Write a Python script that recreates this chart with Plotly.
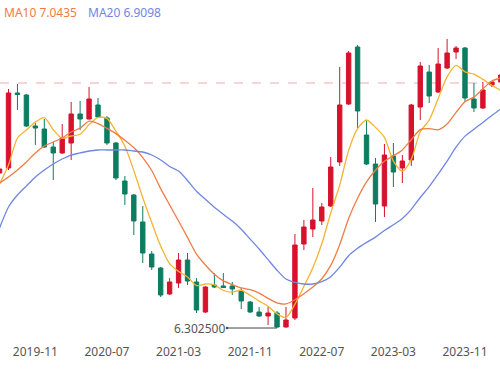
import plotly.graph_objects as go

months = ["2019-07","2019-08","2019-09","2019-10","2019-11","2019-12",
          "2020-01","2020-02","2020-03","2020-04","2020-05","2020-06","2020-07","2020-08","2020-09","2020-10","2020-11","2020-12",
          "2021-01","2021-02","2021-03","2021-04","2021-05","2021-06","2021-07","2021-08","2021-09","2021-10","2021-11","2021-12",
          "2022-01","2022-02","2022-03","2022-04","2022-05","2022-06","2022-07","2022-08","2022-09","2022-10","2022-11","2022-12",
          "2023-01","2023-02","2023-03","2023-04","2023-05","2023-06","2023-07","2023-08","2023-09","2023-10","2023-11","2023-12",
          "2024-01","2024-02","2024-03"]

open_ = [6.8644,6.8825,7.1544,7.1471,7.0348,7.0239,
         6.9586,6.9369,6.9731,7.0783,7.0601,7.1109,7.0638,6.9731,6.8354,6.7846,6.6868,6.5708,
         6.5200,6.4258,6.4656,6.5490,6.4693,6.3605,6.4584,6.4548,6.4548,6.4366,6.3968,6.3605,
         6.3460,6.3569,6.3061,6.3388,6.6070,6.6614,6.6904,6.7448,6.9043,7.1145,7.3211,7.0021,
         6.8970,6.7448,6.9260,6.8825,6.9115,7.1036,7.2305,7.1580,7.2450,7.3030,7.3175,7.1326,
         7.1000,7.1834,7.1942]
high = [6.8825,7.1689,7.1870,7.1508,7.0456,7.0601,
        6.9768,7.0420,7.1218,7.1254,7.1761,7.1363,7.0710,6.9768,6.8535,6.7883,6.7448,6.5816,
        6.5236,6.4835,6.5744,6.5744,6.4835,6.4548,6.5019,6.5019,6.4693,6.4475,6.4004,6.3786,
        6.3786,6.3641,6.3786,6.6432,6.6940,6.8100,6.7556,6.9224,7.2486,7.3066,7.3284,7.0565,
        6.9188,6.9695,6.9731,6.9296,7.1145,7.2668,7.2559,7.3175,7.3501,7.3248,7.3211,7.1906,
        7.1942,7.1915,7.2305]
low = [6.8608,6.8753,7.0928,7.0311,6.9659,6.9550,
       6.8390,6.9332,6.9115,7.0203,7.0583,7.0638,6.9659,6.8390,6.7484,6.6396,6.5381,6.5128,
       6.4149,6.4221,6.4475,6.4584,6.3569,6.3569,6.4475,6.4475,6.4221,6.3714,6.3569,6.3424,
       6.3134,6.3025,6.3040,6.3315,6.5853,6.6324,6.6759,6.7411,6.8898,7.1109,7.0275,6.8934,
       6.6868,6.7049,6.8136,6.8281,6.8898,7.0565,7.1181,7.1544,7.2414,7.2776,7.1218,7.0855,
       7.0964,7.1761,7.1906]
close = [6.8789,7.1544,7.1489,7.0348,7.0275,6.9586,
         6.9369,6.9913,7.0783,7.0601,7.1326,7.0674,6.9731,6.8463,6.7883,6.6904,6.5744,6.5236,
         6.4221,6.4693,6.5490,6.4729,6.3678,6.4511,6.4511,6.4493,6.4439,6.4004,6.3605,6.3460,
         6.3569,6.3061,6.3315,6.6034,6.6686,6.6940,6.7411,6.8861,7.1109,7.2994,7.0891,6.8970,
         6.7520,6.9296,6.8680,6.9079,7.1109,7.2523,7.1435,7.2595,7.2994,7.3175,7.1363,7.1000,
         7.1653,7.1942,7.2196]

ma5 = [6.8245,6.8934,6.9913,7.0203,7.0489,7.0648,
       7.0213,6.9898,6.9985,7.0050,7.0398,7.0659,7.0623,7.0159,6.9615,6.8731,6.7745,6.6846,
       6.5998,6.5360,6.5077,6.4874,6.4562,6.4620,6.4584,6.4384,6.4326,6.4392,6.4210,6.4000,
       6.3815,6.3540,6.3402,6.3888,6.4533,6.5207,6.6077,6.7194,6.8202,6.9463,7.0253,7.0565,
       7.0297,6.9934,6.9072,6.8709,6.9137,7.0137,7.0565,7.1348,7.2131,7.2544,7.2312,7.2225,
       7.2037,7.1827,7.1631]
ma10 = [6.8281,6.8499,6.8753,6.9043,6.9369,6.9623,
        6.9768,6.9913,7.0130,7.0270,7.0523,7.0436,7.0261,7.0072,6.9833,6.9565,6.9202,6.8734,
        6.8078,6.7487,6.6904,6.6309,6.5704,6.5309,6.4972,6.4731,6.4600,6.4477,6.4415,6.4292,
        6.4100,6.3933,6.3897,6.4049,6.4267,6.4511,6.4809,6.5294,6.6045,6.6998,6.7730,6.8321,
        6.8742,6.9068,6.9267,6.9481,6.9851,7.0217,7.0250,7.0210,7.0420,7.0841,7.1225,7.1395,
        7.1692,7.1979,7.2088]
ma20 = [6.6650,6.7411,6.7846,6.8173,6.8499,6.8753,
        6.8970,6.9151,6.9296,6.9369,6.9441,6.9478,6.9478,6.9478,6.9478,6.9441,6.9405,6.9296,
        6.9115,6.8879,6.8713,6.8372,6.7982,6.7690,6.7402,6.7147,6.6900,6.6607,6.6248,6.5889,
        6.5501,6.5120,6.4801,6.4678,6.4620,6.4620,6.4703,6.4885,6.5229,6.5646,6.5914,6.6128,
        6.6320,6.6559,6.6766,6.6994,6.7328,6.7756,6.8147,6.8604,6.9075,6.9579,6.9981,7.0231,
        7.0478,7.0728,7.0967]

tick_labels = ["2019-11","2020-07","2021-03","2021-11","2022-07","2023-03","2023-11"]
legend_labels = ["MA10 7.0435", "MA20 6.9098"]
ref_price = 7.1906
min_low = 6.3025
min_month = "2022-02"

RED = "#d7122c"
GREEN = "#0c7d61"
C_MA5 = "#f5b332"
C_MA10 = "#ef7c45"
C_MA20 = "#6f86e3"

fig = go.Figure()
fig.add_trace(go.Candlestick(
    x=months, open=open_, high=high, low=low, close=close,
    increasing=dict(line=dict(color=RED, width=1), fillcolor=RED),
    decreasing=dict(line=dict(color=GREEN, width=1), fillcolor=GREEN),
    whiskerwidth=0, showlegend=False, hoverinfo="skip"))
for vals, col in [(ma5, C_MA5), (ma10, C_MA10), (ma20, C_MA20)]:
    fig.add_trace(go.Scatter(x=months, y=vals, mode="lines",
                             line=dict(color=col, width=1.3, shape="spline", smoothing=0.7),
                             showlegend=False, hoverinfo="skip"))

fig.add_shape(type="line", xref="paper", x0=0, x1=1, yref="y", y0=ref_price, y1=ref_price,
              line=dict(color="#f3a9a9", width=1, dash="dash"), layer="below")

fig.add_annotation(x=min_month, y=min_low, text=f"{min_low:.6f}", showarrow=True,
                   ax=-50, ay=0, xanchor="right", arrowside="start", startarrowhead=6,
                   startarrowsize=0.6, arrowwidth=1, arrowcolor="#444", standoff=0,
                   font=dict(size=12, color="#555", family="Noto Sans"))

fig.add_annotation(xref="paper", yref="paper", x=0.004, y=0.962, text=legend_labels[0],
                   showarrow=False, xanchor="left", yanchor="middle",
                   font=dict(size=12, color=C_MA10, family="Noto Sans"))
fig.add_annotation(xref="paper", yref="paper", x=0.172, y=0.962, text=legend_labels[1],
                   showarrow=False, xanchor="left", yanchor="middle",
                   font=dict(size=12, color=C_MA20, family="Noto Sans"))

fig.update_layout(
    width=500, height=375, margin=dict(l=0, r=0, t=0, b=35),
    paper_bgcolor="white", plot_bgcolor="white",
    font=dict(family="Noto Sans", size=12, color="#555"),
    xaxis=dict(type="category", range=[0.05, 55.91], rangeslider=dict(visible=False),
               tickmode="array", tickvals=tick_labels, ticktext=tick_labels,
               showgrid=False, showline=False, zeroline=False, ticks="",
               ticklabelstandoff=3,
               tickfont=dict(size=12, color="#555")),
    yaxis=dict(range=[6.259, 7.4915], visible=False, showgrid=False),
)
fig.write_html("out.html", config={"displayModeBar": False},
               post_script="document.body.style.margin='0';document.body.style.padding='0';")
